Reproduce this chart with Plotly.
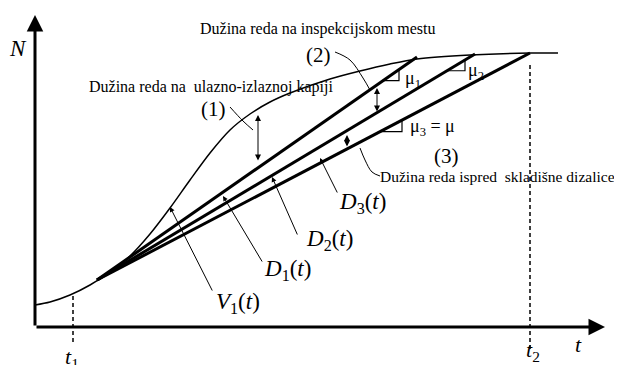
import plotly.graph_objects as go

# cumulative arrivals curve V1(t) (arbitrary units)
curve_t = [0, 15, 35, 55, 75, 95, 115, 135, 155, 175, 195, 215, 235, 255, 295, 325, 355, 382, 435, 495, 523]
curve_n = [22, 25, 32, 42, 55, 71, 93, 119, 147, 174, 197, 213, 225, 234, 248, 256, 263, 268, 272, 274, 274]

# departure lines D1..D3 (common start, end on the plateau)
d_start = (62, 47)
d_end_t = [382, 440, 495]
d_end_n = [270, 273, 274]

t1_pos = 38
t2_pos = 495

# double arrows (queue lengths): t, top, bottom
queue_t = [223, 342, 312]
queue_top = [212, 239, 192]
queue_bot = [165, 214, 179]

# slope marks on each D line: start t, run
slope_t0 = [348, 412, 345]
slope_dt = [16, 18, 22]

# curved leaders for (1), (2), (3)
lead1_t = [195, 208, 218]
lead1_n = [220, 206, 197]
lead2_t = [300, 315, 328, 335]
lead2_n = [275, 267, 249, 237]
lead3_t = [325, 330, 337, 345]
lead3_n = [179, 167, 155, 151]

SERIF = "Liberation Serif, Times New Roman, serif"

fig = go.Figure()

fig.add_trace(go.Scatter(x=curve_t, y=curve_n, mode="lines", line=dict(color="black", width=1.5, shape="spline", smoothing=0.8)))

for te, ne in zip(d_end_t, d_end_n):
    fig.add_trace(go.Scatter(x=[d_start[0], te], y=[d_start[1], ne], mode="lines", line=dict(color="black", width=3)))


def d_line(i, t):
    s = (d_end_n[i] - d_start[1]) / (d_end_t[i] - d_start[0])
    return d_start[1] + s * (t - d_start[0])


for i in range(3):
    t0, dt = slope_t0[i], slope_dt[i]
    y0 = d_line(i, t0)
    fig.add_trace(go.Scatter(x=[t0, t0 + dt, t0 + dt], y=[y0, y0, d_line(i, t0 + dt)], mode="lines", line=dict(color="black", width=1.2)))

# dashed time markers
fig.add_trace(go.Scatter(x=[t1_pos, t1_pos], y=[31, -18], mode="lines", line=dict(color="black", width=1.5, dash="4px,3px")))
fig.add_trace(go.Scatter(x=[t2_pos, t2_pos], y=[262, -22], mode="lines", line=dict(color="black", width=1.5, dash="4px,3px")))

for lt, ln in [(lead1_t, lead1_n), (lead2_t, lead2_n), (lead3_t, lead3_n)]:
    fig.add_trace(go.Scatter(x=lt, y=ln, mode="lines", line=dict(color="black", width=1, shape="spline")))

ann = []


def arrow(x, y, ax, ay, width=1.0, head=2, size=1.0, side="end"):
    ann.append(dict(x=x, y=y, ax=ax, ay=ay, xref="x", yref="y", axref="x", ayref="y", text="",
                    showarrow=True, arrowhead=head, arrowsize=size, arrowwidth=width,
                    arrowcolor="black", arrowside=side, standoff=0, startstandoff=0))


# axes
arrow(0, 312, 0, 0, width=3, head=2, size=1.1)
arrow(570, 0, 0, 0, width=3, head=2, size=1.1)

for qt, qa, qb in zip(queue_t, queue_top, queue_bot):
    arrow(qt, qa, qt, qb, width=1.0, head=2, size=1.2, side="end+start")

# leaders to curve / lines
arrow(135, 120, 178, 35)
arrow(188, 131, 228, 64)
arrow(237, 150, 263, 91)
arrow(285, 169, 303, 133)


def label(x, y, text, size=16, xanchor="center"):
    ann.append(dict(x=x, y=y, xref="x", yref="y", text=text, showarrow=False, xanchor=xanchor,
                    yanchor="middle", borderpad=0, font=dict(family=SERIF, size=size, color="black")))


label(-17, 279, "<i>N</i>", 23)
label(543, -17, "<i>t</i>", 22)
label(37, -31, "<i>t</i><sub>1</sub>", 22)
label(498, -24, "<i>t</i><sub>2</sub>", 22)

label(283, 298, "Dužina reda na inspekcijskom mestu", 16)
label(176, 240, "Dužina reda na\u00a0 ulazno-izlaznoj kapiji", 16)
label(344, 151, "Dužina reda ispred\u00a0 skladišne dizalice", 15.5, xanchor="left")

label(178, 218, "(1)", 21)
label(283, 272, "(2)", 21)
label(411, 171, "(3)", 21)

label(378, 248, "μ<sub>1</sub>", 18)
label(441, 256, "μ<sub>2</sub>", 18)
label(397, 200, "μ<sub>3</sub> = μ", 18)

label(203, 24, "<i>V</i><sub>1</sub>(<i>t</i>)", 23)
label(252, 57, "<i>D</i><sub>1</sub>(<i>t</i>)", 23)
label(294, 87, "<i>D</i><sub>2</sub>(<i>t</i>)", 23)
label(327, 124, "<i>D</i><sub>3</sub>(<i>t</i>)", 23)

fig.update_layout(
    width=622, height=365,
    margin=dict(l=0, r=0, t=0, b=0),
    plot_bgcolor="white", paper_bgcolor="white",
    showlegend=False,
    annotations=ann,
)
# ranges shifted to compensate the page's default 8px body margin
fig.update_xaxes(range=[-27, 595], visible=False, showgrid=False, zeroline=False)
fig.update_yaxes(range=[-46, 319], visible=False, showgrid=False, zeroline=False)

fig.write_html("out.html")
